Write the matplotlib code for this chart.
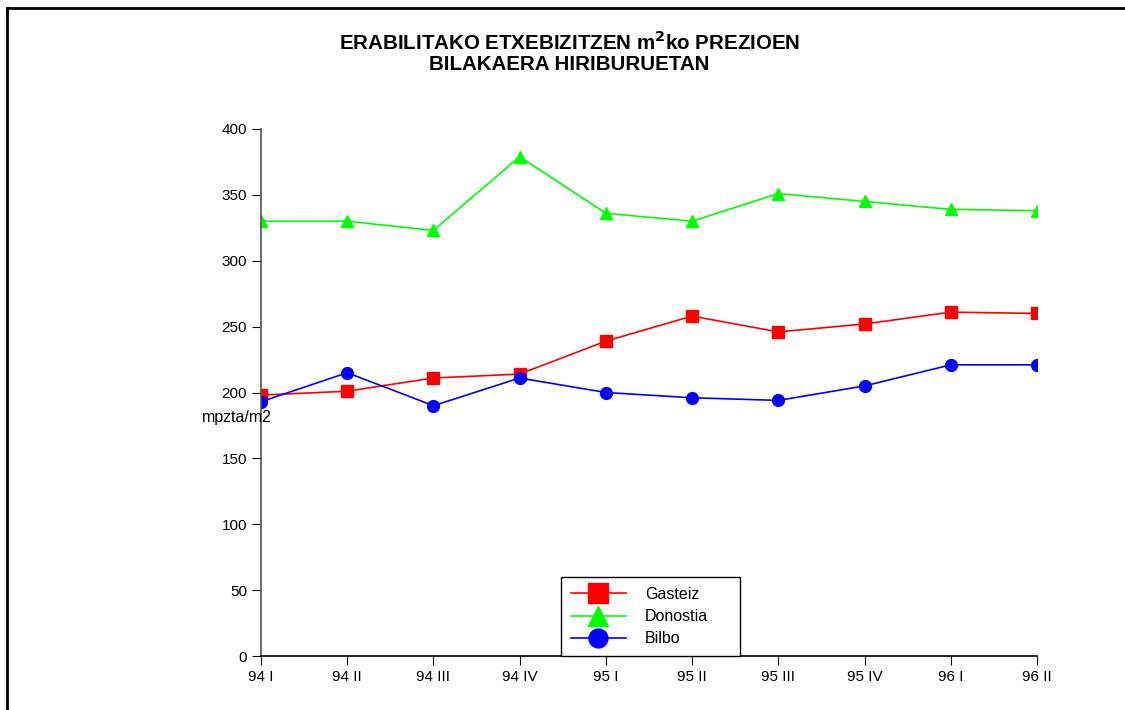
import numpy as np
import matplotlib
matplotlib.use("Agg")
import matplotlib.pyplot as plt
from matplotlib.lines import Line2D

plt.rcParams["font.family"] = ["Liberation Sans", "DejaVu Sans"]

# Data
periods = ["94 I", "94 II", "94 III", "94 IV", "95 I", "95 II", "95 III", "95 IV", "96 I", "96 II"]
gasteiz = [198, 201, 211, 214, 239, 258, 246, 252, 261, 260]
donostia = [330, 330, 323, 379, 336, 330, 351, 345, 339, 338]
bilbo = [193, 215, 190, 211, 200, 196, 194, 205, 221, 221]

fig = plt.figure(figsize=(11.25, 7.1), dpi=100)
ax = fig.add_axes([261 / 1125, 54 / 710, 776 / 1125, 527 / 710])

x = np.arange(len(periods))
ax.plot(x, gasteiz, color="#ff0000", lw=1.2, marker="s", ms=9, label="Gasteiz")
ax.plot(x, donostia, color="#00ff00", lw=1.2, marker="^", ms=9, label="Donostia")
ax.plot(x, bilbo, color="#0000ff", lw=1.2, marker="o", ms=8.5, label="Bilbo")

ax.set_xlim(0, len(periods) - 1)
ax.set_ylim(0, 400)
ax.set_xticks(x)
ax.set_xticklabels(periods, fontsize=11)
ax.set_yticks(np.arange(0, 401, 50))
ax.tick_params(axis="y", labelsize=11, length=6.5, direction="out", color="black")
ax.tick_params(axis="x", length=6.5, direction="out", color="black")
for s in ["top", "right"]:
    ax.spines[s].set_visible(False)
ax.spines["left"].set_color("#555555")
ax.spines["left"].set_linewidth(1.2)
ax.spines["bottom"].set_linewidth(1.2)

ax.text(-0.031, 0.4535, "mpzta/m2", transform=ax.transAxes, fontsize=11.5,
        ha="center", va="center")

fig.text(0.506, 0.941, r"ERABILITAKO ETXEBIZITZEN m$^\mathbf{2}$ko PREZIOEN",
         ha="center", va="center", fontsize=14.8, fontweight="bold")
fig.text(0.506, 0.909, "BILAKAERA HIRIBURUETAN",
         ha="center", va="center", fontsize=14.8, fontweight="bold")

leg = ax.legend(loc="lower left", bbox_to_anchor=(300 / 776, 0.0, 179 / 776, 0.14),
                mode="expand", borderaxespad=0,
                fontsize=11.5, handlelength=3.45, markerscale=1.6, fancybox=False,
                edgecolor="black", framealpha=1, borderpad=0.6, labelspacing=0.45,
                handletextpad=1.2)
leg.get_frame().set_linewidth(1.0)

# outer frame
fig.add_artist(Line2D([7 / 1125, 1.0], [1 - 8 / 710, 1 - 8 / 710], transform=fig.transFigure,
                      color="black", lw=2))
fig.add_artist(Line2D([7 / 1125, 7 / 1125], [0, 1 - 8 / 710], transform=fig.transFigure,
                      color="black", lw=2))

fig.savefig("out.png", dpi=100)
